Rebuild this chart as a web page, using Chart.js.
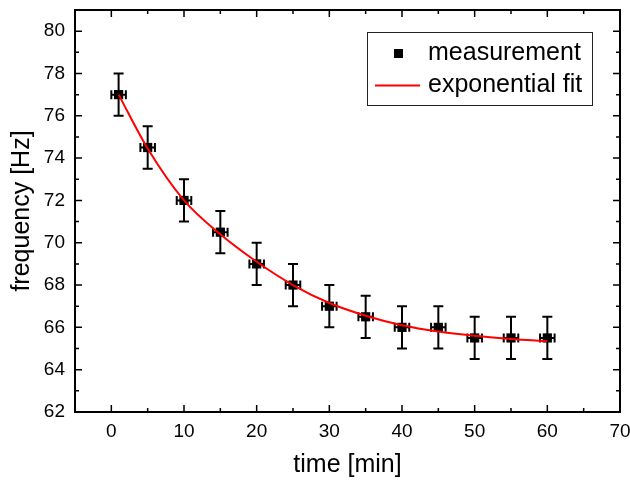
<!DOCTYPE html>
<html lang="en">
<head>
  <meta charset="UTF-8" />
  <title>Frequency vs time</title>
  <script src="https://cdn.jsdelivr.net/npm/chart.js"></script>
  <style>
    body {
      margin: 0;
      background-color: #ffffff;
    }
    #chart-box {
      width: 630px;
      height: 480px;
    }
  </style>
</head>
<body>
  <div id="chart-box">
    <canvas id="freqChart" width="630" height="480"></canvas>
  </div>

  <script>
    // measured points (time in min, frequency in Hz) with their errors
    const timeMin = [1, 5, 10, 15, 20, 25, 30, 35, 40, 45, 50, 55, 60];
    const freqHz = [77, 74.5, 72, 70.5, 69, 68, 67, 66.5, 66, 66, 65.5, 65.5, 65.5];
    const timeErr = [1, 1, 1, 1, 1, 1, 1, 1, 1, 1, 1, 1, 1];
    const freqErr = [1, 1, 1, 1, 1, 1, 1, 1, 1, 1, 1, 1, 1];

    // fit curve
    const fitTime = [1, 5, 10, 15, 20, 25, 30, 35, 40, 45, 50, 55, 60];
    const fitFreq = [77.0, 74.45, 72.0, 70.4, 69.1, 68.0, 67.15, 66.55, 66.1, 65.8, 65.6, 65.45, 65.35];

    // axis ticks
    const xTicks = [0, 10, 20, 30, 40, 50, 60, 70];
    const xMinorTicks = [-5, 5, 15, 25, 35, 45, 55, 65];
    const yTicks = [62, 64, 66, 68, 70, 72, 74, 76, 78, 80];
    const yMinorTicks = [63, 65, 67, 69, 71, 73, 75, 77, 79, 81];

    const fontFam = "'Liberation Sans', Arial, sans-serif";

    // frame + inward ticks on all four sides
    const framePlugin = {
      id: 'frame',
      afterDraw(chart) {
        const { ctx, chartArea: a, scales: { x, y } } = chart;
        ctx.save();
        ctx.strokeStyle = '#000';
        ctx.lineWidth = 1.5;
        const tick = (list, len) => {
          list.forEach(v => {
            const px = x.getPixelForValue(v);
            if (px <= a.left + 1 || px >= a.right - 1) return;
            ctx.beginPath();
            ctx.moveTo(px, a.bottom); ctx.lineTo(px, a.bottom - len);
            ctx.moveTo(px, a.top); ctx.lineTo(px, a.top + len);
            ctx.stroke();
          });
        };
        const tickY = (list, len) => {
          list.forEach(v => {
            const py = y.getPixelForValue(v);
            if (py <= a.top + 1 || py >= a.bottom - 1) return;
            ctx.beginPath();
            ctx.moveTo(a.left, py); ctx.lineTo(a.left + len, py);
            ctx.moveTo(a.right, py); ctx.lineTo(a.right - len, py);
            ctx.stroke();
          });
        };
        tick(xTicks, 7);
        tick(xMinorTicks, 4);
        tickY(yTicks, 7);
        tickY(yMinorTicks, 4);
        ctx.lineWidth = 2;
        ctx.strokeRect(a.left, a.top, a.right - a.left, a.bottom - a.top);
        ctx.restore();
      }
    };

    // error bars with caps, drawn under the markers
    const errorBarPlugin = {
      id: 'errorBars',
      beforeDatasetsDraw(chart) {
        const { ctx, scales: { x, y } } = chart;
        ctx.save();
        ctx.strokeStyle = '#000';
        ctx.lineWidth = 2;
        timeMin.forEach((t, i) => {
          const px = x.getPixelForValue(t);
          const py = y.getPixelForValue(freqHz[i]);
          const y1 = y.getPixelForValue(freqHz[i] - freqErr[i]);
          const y2 = y.getPixelForValue(freqHz[i] + freqErr[i]);
          const x1 = x.getPixelForValue(t - timeErr[i]);
          const x2 = x.getPixelForValue(t + timeErr[i]);
          ctx.beginPath();
          ctx.moveTo(px, y1); ctx.lineTo(px, y2);
          ctx.moveTo(px - 5, y1); ctx.lineTo(px + 5, y1);
          ctx.moveTo(px - 5, y2); ctx.lineTo(px + 5, y2);
          ctx.moveTo(x1, py); ctx.lineTo(x2, py);
          ctx.moveTo(x1, py - 4.5); ctx.lineTo(x1, py + 4.5);
          ctx.moveTo(x2, py - 4.5); ctx.lineTo(x2, py + 4.5);
          ctx.stroke();
        });
        ctx.restore();
      }
    };

    // boxed legend in the upper right corner
    const legendPlugin = {
      id: 'boxLegend',
      afterDraw(chart) {
        const { ctx } = chart;
        const ds = chart.data.datasets;
        ctx.save();
        ctx.strokeStyle = '#222';
        ctx.lineWidth = 1;
        ctx.strokeRect(367.5, 32.5, 225, 73);
        ctx.fillStyle = '#000';
        ctx.fillRect(394, 49, 9, 9);
        ctx.strokeStyle = '#ff0000';
        ctx.lineWidth = 1.8;
        ctx.beginPath();
        ctx.moveTo(375, 85.5); ctx.lineTo(420, 85.5);
        ctx.stroke();
        ctx.fillStyle = '#000';
        ctx.font = '25px ' + fontFam;
        ctx.textBaseline = 'middle';
        ctx.fillText(ds[1].label, 428, 53);
        ctx.fillText(ds[0].label, 428, 85);
        ctx.restore();
      }
    };

    new Chart(document.getElementById('freqChart'), {
      type: 'scatter',
      data: {
        datasets: [
          {
            label: 'exponential fit',
            type: 'line',
            data: fitTime.map((t, i) => ({ x: t, y: fitFreq[i] })),
            borderColor: '#ff0000',
            borderWidth: 2,
            pointRadius: 0,
            cubicInterpolationMode: 'monotone',
            fill: false,
            order: 0
          },
          {
            label: 'measurement',
            data: timeMin.map((t, i) => ({ x: t, y: freqHz[i] })),
            pointStyle: 'rect',
            pointRadius: 6.5,
            borderWidth: 0,
            backgroundColor: '#000',
            borderColor: '#000',
            order: 1
          }
        ]
      },
      options: {
        responsive: false,
        animation: false,
        layout: { padding: { top: 10, right: 10, left: 0, bottom: 0 } },
        plugins: {
          legend: { display: false },
          tooltip: { enabled: false }
        },
        scales: {
          x: {
            type: 'linear',
            min: -5,
            max: 70,
            afterBuildTicks: s => { s.ticks = xTicks.map(v => ({ value: v })); },
            afterFit: s => { s.height = 68; s.paddingLeft = 0; s.paddingRight = 0; },
            ticks: { color: '#000', font: { family: fontFam, size: 19 }, padding: 8 },
            grid: { display: false, drawTicks: false },
            border: { display: false },
            title: { display: true, text: 'time [min]', color: '#000', font: { family: fontFam, size: 25 }, padding: { top: 0, bottom: 0 } }
          },
          y: {
            type: 'linear',
            min: 62,
            max: 81,
            afterBuildTicks: s => { s.ticks = yTicks.map(v => ({ value: v })); },
            afterFit: s => { s.width = 75; s.paddingTop = 0; s.paddingBottom = 0; },
            ticks: { color: '#000', font: { family: fontFam, size: 19 }, padding: 10 },
            grid: { display: false, drawTicks: false },
            border: { display: false },
            title: { display: true, text: 'frequency [Hz]', color: '#000', font: { family: fontFam, size: 25 }, padding: { top: 7, bottom: 0 } }
          }
        }
      },
      plugins: [errorBarPlugin, framePlugin, legendPlugin]
    });
  </script>
</body>
</html>
